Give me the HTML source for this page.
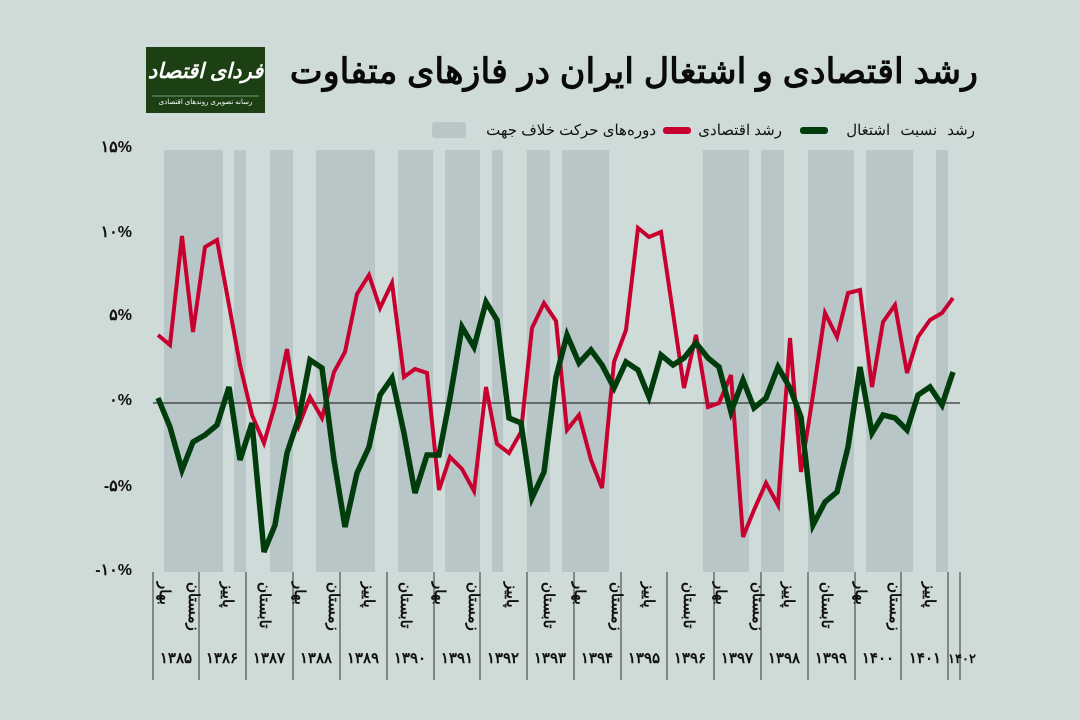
<!DOCTYPE html>
<html><head><meta charset="utf-8"><style>
html,body{margin:0;padding:0;background:#cfdbd9;}
body{width:1080px;height:720px;overflow:hidden;position:relative;font-family:"Liberation Sans","Noto Sans CJK SC",sans-serif;}
.v{position:absolute;top:582px;writing-mode:vertical-rl;font-weight:bold;font-size:15px;color:#111;line-height:16px;direction:rtl;}
.t{position:absolute;direction:rtl;white-space:nowrap;text-align:right;}
</style></head><body>
<svg width="1080" height="720" style="position:absolute;left:0;top:0" font-family="'Liberation Sans','Noto Sans CJK SC',sans-serif">
<rect width="1080" height="720" fill="#cfdbd9"/>
<g fill="#b9c6c7">
<rect x="164" y="150" width="59" height="422"/>
<rect x="234" y="150" width="12" height="422"/>
<rect x="270" y="150" width="23" height="422"/>
<rect x="316" y="150" width="59" height="422"/>
<rect x="398" y="150" width="35" height="422"/>
<rect x="445" y="150" width="35" height="422"/>
<rect x="492" y="150" width="11" height="422"/>
<rect x="527" y="150" width="23" height="422"/>
<rect x="562" y="150" width="47" height="422"/>
<rect x="703" y="150" width="46" height="422"/>
<rect x="761" y="150" width="23" height="422"/>
<rect x="808" y="150" width="46" height="422"/>
<rect x="866" y="150" width="47" height="422"/>
<rect x="936" y="150" width="12" height="422"/>
</g>
<line x1="153" y1="403" x2="960" y2="403" stroke="#333" stroke-width="1.2"/>
<g font-size="16" font-weight="bold" fill="#111" text-anchor="end">
<text x="132" y="152">۱۵%</text>
<text x="132" y="237">۱۰%</text>
<text x="132" y="320">۵%</text>
<text x="132" y="405">۰%</text>
<text x="132" y="491">-۵%</text>
<text x="132" y="575">-۱۰%</text>
</g>
<polyline fill="none" stroke="#c8002f" stroke-width="4" points="158,335 170,345 182,236 193,332 205,247 217,240 229,305 240,365 252,415 264,443 275,405 287,349 299,425 310,397 322,418 334,372 345,352 357,294 369,275 380,308 392,283 404,377 415,369 427,373 439,490 450,457 462,469 474,491 486,387 497,444 509,453 521,432 532,328 544,303 556,321 567,430 579,415 591,460 602,488 614,362 626,330 638,228 649,237 661,232 673,313 684,388 696,335 708,407 719,403 731,375 743,537 754,510 766,483 778,505 790,338 801,472 813,395 825,313 837,337 848,293 860,290 872,387 883,322 895,305 907,373 918,337 930,320 942,313 953,298"/>
<polyline fill="none" stroke="#013d0c" stroke-width="5.5" points="158,398 170,427 182,470 193,442 205,435 217,425 229,387 240,460 252,423 264,552 275,525 287,453 299,417 310,360 322,368 334,460 345,527 357,473 369,447 380,395 392,378 404,433 415,493 427,455 439,455 450,398 462,327 474,347 486,302 497,320 509,418 521,423 532,498 544,472 556,377 567,335 579,363 591,350 602,365 614,388 626,362 638,370 649,397 661,355 673,365 684,358 696,343 708,358 719,367 731,412 743,380 754,408 766,398 778,367 790,388 801,417 813,525 825,502 837,492 848,447 860,367 872,433 883,415 895,418 907,430 918,395 930,387 942,405 953,372"/>
<g stroke="#333" stroke-width="1">
<line x1="153" y1="572" x2="153" y2="680"/><line x1="199" y1="572" x2="199" y2="680"/>
<line x1="246" y1="572" x2="246" y2="680"/><line x1="293" y1="572" x2="293" y2="680"/>
<line x1="340" y1="572" x2="340" y2="680"/><line x1="387" y1="572" x2="387" y2="680"/>
<line x1="434" y1="572" x2="434" y2="680"/><line x1="480" y1="572" x2="480" y2="680"/>
<line x1="527" y1="572" x2="527" y2="680"/><line x1="574" y1="572" x2="574" y2="680"/>
<line x1="621" y1="572" x2="621" y2="680"/><line x1="667" y1="572" x2="667" y2="680"/>
<line x1="714" y1="572" x2="714" y2="680"/><line x1="761" y1="572" x2="761" y2="680"/>
<line x1="808" y1="572" x2="808" y2="680"/><line x1="855" y1="572" x2="855" y2="680"/>
<line x1="901" y1="572" x2="901" y2="680"/><line x1="948" y1="572" x2="948" y2="680"/>
<line x1="960" y1="572" x2="960" y2="680"/>
</g>
<g font-size="15" font-weight="bold" fill="#111" text-anchor="middle">
<text x="176" y="663">۱۳۸۵</text><text x="222" y="663">۱۳۸۶</text><text x="269" y="663">۱۳۸۷</text>
<text x="316" y="663">۱۳۸۸</text><text x="363" y="663">۱۳۸۹</text><text x="410" y="663">۱۳۹۰</text>
<text x="457" y="663">۱۳۹۱</text><text x="503" y="663">۱۳۹۲</text><text x="550" y="663">۱۳۹۳</text>
<text x="597" y="663">۱۳۹۴</text><text x="644" y="663">۱۳۹۵</text><text x="690" y="663">۱۳۹۶</text>
<text x="737" y="663">۱۳۹۷</text><text x="784" y="663">۱۳۹۸</text><text x="831" y="663">۱۳۹۹</text>
<text x="878" y="663">۱۴۰۰</text><text x="925" y="663">۱۴۰۱</text><text x="962" y="663" font-size="13">۱۴۰۲</text>
</g>
<rect x="146" y="47" width="119" height="66" fill="#1d3f14"/>
<line x1="152" y1="96" x2="259" y2="96" stroke="#cfd" stroke-width="0.6"/>
<rect x="800" y="127" width="28" height="7" rx="3" fill="#013d0c"/>
<rect x="663" y="127" width="28" height="7" rx="3" fill="#c8002f"/>
<rect x="432" y="122" width="34" height="16" rx="3" fill="#b9c6c7"/>
</svg>
<div class="t" style="left:146px;width:119px;top:59px;text-align:center;color:#fff;font-size:21px;font-weight:bold;font-style:italic;">فردای اقتصاد</div>
<div class="t" style="left:146px;width:119px;top:98px;text-align:center;color:#fff;font-size:7px;">رسانه تصویری روندهای اقتصادی</div>
<div class="t" style="right:102px;top:52px;font-size:35px;font-weight:bold;color:#0a0a0a;">رشد اقتصادی و اشتغال ایران در فازهای متفاوت</div>
<div class="t" style="right:105px;top:121px;font-size:15px;color:#111;word-spacing:6px;">رشد نسبت اشتغال</div>
<div class="t" style="right:298px;top:121px;font-size:15px;color:#111;">رشد اقتصادی</div>
<div class="t" style="right:424px;top:121px;font-size:15px;color:#111;">دوره‌های حرکت خلاف جهت</div>
<div class="v" style="left:156px">بهار</div>
<div class="v" style="left:185px">زمستان</div>
<div class="v" style="left:219px">پاییز</div>
<div class="v" style="left:256px">تابستان</div>
<div class="v" style="left:291px">بهار</div>
<div class="v" style="left:325px">زمستان</div>
<div class="v" style="left:360px">پاییز</div>
<div class="v" style="left:397px">تابستان</div>
<div class="v" style="left:431px">بهار</div>
<div class="v" style="left:465px">زمستان</div>
<div class="v" style="left:503px">پاییز</div>
<div class="v" style="left:540px">تابستان</div>
<div class="v" style="left:571px">بهار</div>
<div class="v" style="left:608px">زمستان</div>
<div class="v" style="left:640px">پاییز</div>
<div class="v" style="left:680px">تابستان</div>
<div class="v" style="left:712px">بهار</div>
<div class="v" style="left:749px">زمستان</div>
<div class="v" style="left:780px">پاییز</div>
<div class="v" style="left:818px">تابستان</div>
<div class="v" style="left:852px">بهار</div>
<div class="v" style="left:886px">زمستان</div>
<div class="v" style="left:921px">پاییز</div>
</body></html>
